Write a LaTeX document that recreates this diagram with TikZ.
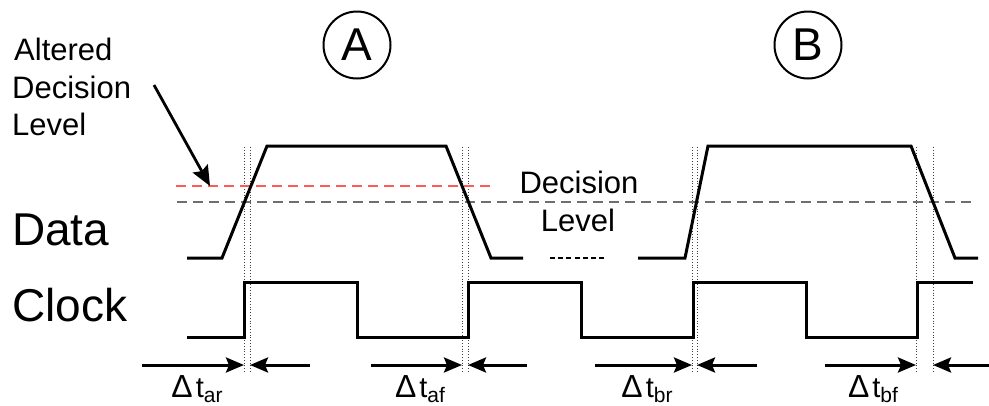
\documentclass[tikz,border=0pt]{standalone}
\usepackage{fontspec}
\setmainfont{Liberation Sans}
\usetikzlibrary{arrows.meta}
\definecolor{altred}{RGB}{255,90,90}
\definecolor{levgray}{RGB}{110,110,110}
\begin{document}
\begin{tikzpicture}[x=1pt,y=-1pt,
  wave/.style={line width=3pt, line join=miter, line cap=butt},
  guide/.style={line width=0.8pt, dotted, black!75},
  declevel/.style={line width=1.8pt, levgray, dash pattern=on 10pt off 6pt},
  altlevel/.style={line width=1.6pt, altred, dash pattern=on 10pt off 6pt},
  meas/.style={line width=3pt, -{Stealth[length=18pt,width=15pt,inset=3pt]}},
  bigtxt/.style={inner sep=0pt, font=\fontsize{46}{46}\selectfont},
  midtxt/.style={inner sep=0pt, font=\fontsize{31}{31}\selectfont},
  dtxt/.style={inner sep=0pt, font=\fontsize{29}{29}\selectfont},
  marker/.style={circle, draw, line width=2pt, minimum size=67pt, inner sep=0pt, font=\fontsize{46}{46}\selectfont}
]
\useasboundingbox (0,0) rectangle (989,405);

% vertical guide lines
\foreach \x/\n in {244/g1,250/g2,462/g3,468/g4,692/g5,697/g6,916/g7,933/g8}{
  \coordinate (\n t) at (\x,147);
  \coordinate (\n b) at (\x,372);
  \coordinate (\n) at (\x,365);
  \draw[guide] (\n t) -- (\n b);
}

% decision levels
\coordinate (dl1) at (177,202); \coordinate (dl2) at (977,202);
\coordinate (al1) at (176,186); \coordinate (al2) at (490,186);
\draw[declevel] (dl1) -- (dl2);
\draw[altlevel] (al1) -- (al2);

% data waveform
\draw[wave] (187,258) -- (222,258) -- (267,146) -- (446,146) -- (491,258) -- (523,258);
\draw[line width=2.6pt, dash pattern=on 5pt off 3.2pt] (550,258) -- (606,258);
\draw[wave] (638,258) -- (685,258) -- (708,146) -- (911,146) -- (955,258) -- (978,258);

% clock waveform
\draw[wave] (187,337) -- (244,337) -- (244,282) -- (357,282) -- (357,337)
  -- (468,337) -- (468,282) -- (581,282) -- (581,337) -- (693,337) -- (693,282)
  -- (806,282) -- (806,337) -- (917,337) -- (917,282) -- (973,282);

% labels
\node[midtxt, anchor=base west] (alt1) at (14,60) {Altered};
\node[midtxt, anchor=base west] (alt2) at (12,98) {Decision};
\node[midtxt, anchor=base west] (alt3) at (12,135) {Level};
\coordinate (altstart) at (154,85);
\coordinate (alttip) at (210,186);
\draw[line width=2.8pt, -{Stealth[length=20pt,width=17pt,inset=3pt]}] (altstart) -- (alttip);

\node[midtxt, anchor=base] (dec1) at (579,193) {Decision};
\node[midtxt, anchor=base] (dec2) at (578,231) {Level};

\node[bigtxt, anchor=base west] (data) at (12,245) {Data};
\node[bigtxt, anchor=base west] (clock) at (12,321) {Clock};

\node[marker] (A) at (357,45) {A};
\node[marker] (B) at (808,45) {B};

% measurement arrows
\coordinate (s1) at (142,365); \coordinate (e1) at (310,365);
\coordinate (s2) at (371,365); \coordinate (e2) at (527,365);
\coordinate (s3) at (595,365); \coordinate (e3) at (757,365);
\coordinate (s4) at (825,365); \coordinate (e4) at (989,365);
\draw[meas] (s1) -- (g1); \draw[meas] (e1) -- (g2);
\draw[meas] (s2) -- (g3); \draw[meas] (e2) -- (g4);
\draw[meas] (s3) -- (g5); \draw[meas] (e3) -- (g6);
\draw[meas] (s4) -- (g7); \draw[meas] (e4) -- (g8);

\newcommand{\dsub}[1]{\raisebox{-5pt}{\fontsize{21}{21}\selectfont #1}}
\node[dtxt, anchor=base] (tar) at (197,397) {\scalebox{1.1}{Δ}\hspace{3pt}t\dsub{ar}};
\node[dtxt, anchor=base] (taf) at (420,397) {\scalebox{1.1}{Δ}\hspace{3pt}t\dsub{af}};
\node[dtxt, anchor=base] (tbr) at (647,397) {\scalebox{1.1}{Δ}\hspace{3pt}t\dsub{br}};
\node[dtxt, anchor=base] (tbf) at (873,397) {\scalebox{1.1}{Δ}\hspace{3pt}t\dsub{bf}};
\end{tikzpicture}
\end{document}
